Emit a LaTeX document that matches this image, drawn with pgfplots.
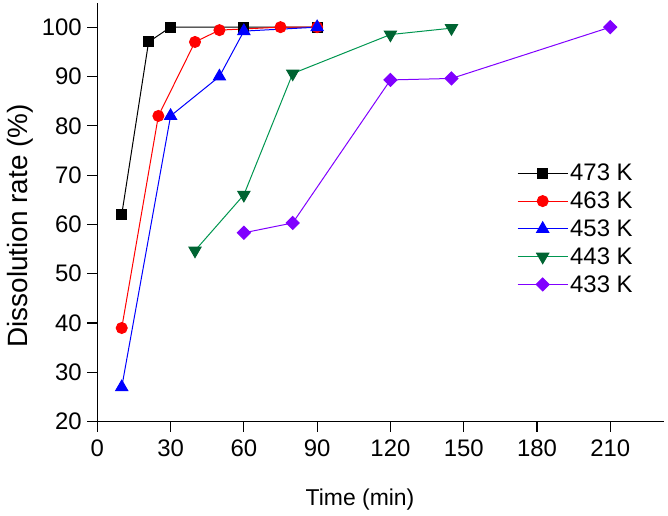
\documentclass[border=0pt]{standalone}
\usepackage{pgfplots}
\pgfplotsset{compat=1.18}
\usepackage{fontspec}
\setmainfont{Liberation Sans}

\definecolor{cgreenline}{RGB}{0,150,80}
\definecolor{cgreenmark}{RGB}{0,100,50}
\definecolor{cpurple}{RGB}{128,0,255}

\begin{document}
\begin{tikzpicture}
\begin{axis}[
    scale only axis,
    width=566.7bp, height=418.7bp,
    xmin=0, xmax=232,
    ymin=20, ymax=104.9,
    axis x line*=bottom, axis y line*=left,
    axis line style={-, line width=1.2bp},
    xtick={0,30,...,210},
    ytick={20,30,...,100},
    tick align=outside,
    major tick length=10bp,
    tick style={line width=1.2bp, black},
    font=\fontsize{24}{28}\selectfont,
    /pgf/number format/assume math mode=true,
    xticklabel style={yshift=-5bp},
    yticklabel style={xshift=-2bp},
    xlabel={Time (min)},
    ylabel={Dissolution rate (\%)},
    xlabel style={at={(rel axis cs:0.4636,0)}, anchor=north, yshift=-64bp,
        font=\fontsize{23}{27}\selectfont},
    ylabel style={at={(rel axis cs:0,0.468)}, anchor=south, yshift=61bp,
        font=\fontsize{28}{32}\selectfont},
    legend style={draw=none, fill=none, at={(rel axis cs:0.7406,0.627)}, anchor=north west,
        inner sep=0pt, row sep=0pt,
        nodes={minimum height=27.8bp, inner sep=2bp},
        font=\fontsize{24}{28}\selectfont},
    legend cell align=left,
    legend image code/.code={
        \draw[mark repeat=2, mark phase=2] plot coordinates {(0bp,0bp) (25bp,0bp) (50bp,0bp)};
    },
    every axis plot/.append style={line width=1bp},
]
\coordinate (o) at (rel axis cs:0,0);

\addplot[black, mark=square*, mark size=5bp, mark options={solid, fill=black}]
coordinates {(10,62) (21,97) (30,100) (60,100) (90,100)};
\addlegendentry{473 K}

\addplot[red, mark=*, mark size=5.5bp, mark options={solid, fill=red}]
coordinates {(10,39) (25,82) (40,97) (50,99.4) (75,100) (90,100)};
\addlegendentry{463 K}

\addplot[blue, mark=triangle*, mark size=7bp, mark options={solid, fill=blue}]
coordinates {(10,27) (30,82) (50,90) (60,99.2) (90,100)};
\addlegendentry{453 K}

\addplot[cgreenline, mark=triangle*, mark size=7bp, mark options={solid, rotate=180, draw=cgreenmark, fill=cgreenmark}]
coordinates {(40,54.7) (60,66) (80,90.6) (120,98.5) (145,99.8)};
\addlegendentry{443 K}

\addplot[cpurple, mark=square*, mark size=4.6bp, mark options={solid, rotate=45, fill=cpurple}]
coordinates {(60,58.3) (80,60.3) (120,89.3) (145,89.6) (210,100)};
\addlegendentry{433 K}

\end{axis}
\pgfresetboundingbox
\path (o) ++(-97.3bp,-94.3bp) rectangle ++(668bp,516bp);
\end{tikzpicture}
\end{document}
